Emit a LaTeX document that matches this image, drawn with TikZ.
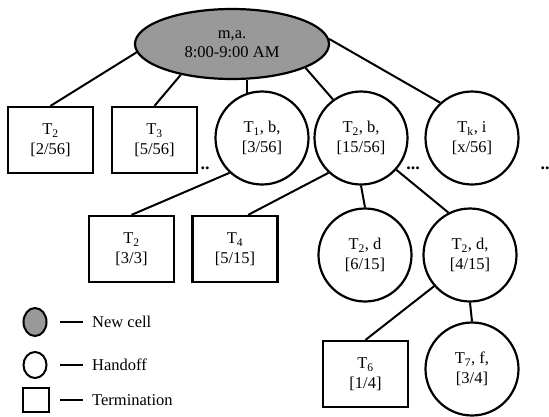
\documentclass[tikz,border=0pt]{standalone}
\usepackage{fontspec}
\setmainfont{Liberation Serif}
\usetikzlibrary{shapes.geometric}
\begin{document}
\begin{tikzpicture}[x=1pt,y=-1pt,
  every node/.style={font=\fontsize{16.5}{19.5}\selectfont, align=center, inner sep=0pt},
  conn/.style={line width=2pt},
  termbox/.style={draw, line width=2.2pt, minimum width=85pt, minimum height=66pt},
  handoff/.style={draw, circle, line width=2.2pt, minimum size=93pt},
  newcell/.style={draw, ellipse, line width=2.2pt, fill=black!40, minimum width=194pt, minimum height=70pt},
  dots/.style={font=\bfseries\fontsize{18}{18}\selectfont}]
\useasboundingbox (0,0) rectangle (549,416);
% nodes
\node[newcell] (root) at (232,44) {m,a.\\8:00-9:00 AM};
\node[termbox] (b1) at (50.5,140) {T\textsubscript{2}\\{[2/56]}};
\node[termbox] (b2) at (154.5,140) {T\textsubscript{3}\\{[5/56]}};
\node[handoff] (t1) at (262,138) {T\textsubscript{1}, b,\\{[3/56]}};
\node[handoff] (t2b) at (361,138) {T\textsubscript{2}, b,\\{[15/56]}};
\node[handoff] (tk) at (472,138) {T\textsubscript{k}, i\\{[x/56]}};
\node[dots] (d1) at (205,168) {..};
\node[dots] (d2) at (413,168) {...};
\node[dots] (d3) at (545,168) {..};
\node[termbox] (b3) at (131.5,249) {T\textsubscript{2}\\{[3/3]}};
\node[termbox] (b4) at (235,249) {T\textsubscript{4}\\{[5/15]}};
\node[handoff] (t2d) at (365,255) {T\textsubscript{2}, d\\{[6/15]}};
\node[handoff] (t2dd) at (470,255) {T\textsubscript{2}, d,\\{[4/15]}};
\node[termbox] (b6) at (365.5,374) {T\textsubscript{6}\\{[1/4]}};
\node[handoff] (t7) at (472,369) {T\textsubscript{7}, f,\\{[3/4]}};
% connectors
\draw[conn] (root.185) -- (b1.north);
\draw[conn] (root.211) -- (b2.north);
\draw[conn] (t1.108) -- (t1.108 |- root.south);
\draw[conn] (root.342) -- (t2b.126);
\draw[conn] (root.3) -- (tk.132);
\draw[conn] (t1.227) -- (b3.north);
\draw[conn] (t2b.227) -- (b4.69);
\draw[conn] (t2b.south) -- (t2d.north);
\draw[conn] (t2b.318) -- (t2dd.117);
\draw[conn] (t2dd.221) -- (b6.north);
\draw[conn] (t2dd.south) -- (t7.north);
% legend
\node[draw, ellipse, line width=2pt, fill=black!40, minimum width=23pt, minimum height=28pt] (lg1) at (35,322) {};
\node[draw, ellipse, line width=2pt, minimum width=23pt, minimum height=26pt] (lg2) at (35,365) {};
\node[draw, line width=2pt, minimum width=26pt, minimum height=24pt] (lg3) at (36,400) {};
\node[anchor=west] (lt1) at (92,322) {New cell};
\node[anchor=west] (lt2) at (92,365) {Handoff};
\node[anchor=west] (lt3) at (92,400) {Termination};
\draw[conn] (60,322) coordinate (la1) -- (83,322) coordinate (la2);
\draw[conn] (60,365) coordinate (lb1) -- (83,365) coordinate (lb2);
\draw[conn] (60,400) coordinate (lc1) -- (83,400) coordinate (lc2);
\end{tikzpicture}
\end{document}
